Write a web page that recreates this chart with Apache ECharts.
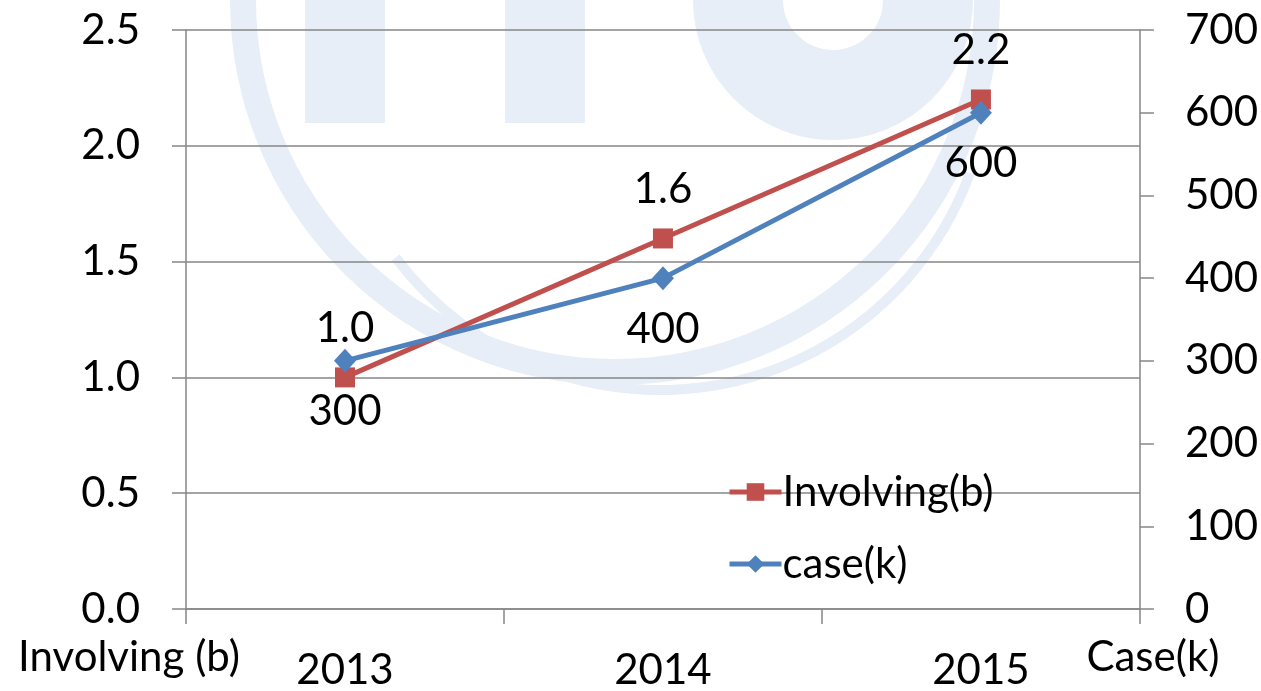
<!DOCTYPE html>
<html>
<head>
<meta charset="utf-8">
<script src="https://cdn.jsdelivr.net/npm/echarts@6/dist/echarts.min.js"></script>
<style>
html, body { margin: 0; padding: 0; background: #fff; }
#main { width: 1261px; height: 691px; }
</style>
</head>
<body>
<div id="main"></div>
<script>
var years = ['2013', '2014', '2015'];
var involving = [1.0, 1.6, 2.2];   // 左轴: Involving (b)
var cases = [300, 400, 600];       // 右轴: Case(k)

var FONT = 'Lato';
var GRAY = '#868686';
var wm = '#e8eef7'; // 背景水印颜色

var dom = document.getElementById('main');
var myChart = echarts.init(dom);

var option = {
    backgroundColor: '#fff',
    textStyle: { fontFamily: FONT, color: '#000' },
    animation: false,
    // 背景水印 (大致形状)
    graphic: [
        { type: 'arc', z: -10, shape: { cx: 615, cy: 0, r: 372, startAngle: 0, endAngle: Math.PI }, style: { stroke: wm, lineWidth: 26, fill: null } },
        { type: 'arc', z: -10, shape: { cx: 660, cy: 60, r: 330, startAngle: 0.35, endAngle: 2.5 }, style: { stroke: wm, lineWidth: 10, fill: null } },
        { type: 'rect', z: -10, shape: { x: 305, y: 0, width: 80, height: 123 }, style: { fill: wm } },
        { type: 'rect', z: -10, shape: { x: 505, y: 0, width: 80, height: 123 }, style: { fill: wm } },
        { type: 'arc', z: -10, shape: { cx: 833, cy: 0, r: 95, startAngle: 0, endAngle: Math.PI }, style: { stroke: wm, lineWidth: 90, fill: null } }
    ],
    legend: {
        orient: 'vertical',
        left: 722,
        top: 466,
        itemWidth: 52,
        itemHeight: 22,
        itemGap: 30,
        lineStyle: { width: 5 },
        textStyle: { fontSize: 42, fontFamily: FONT, color: '#000', padding: [0, 0, 0, -4] },
        data: ['Involving(b)', 'case(k)']
    },
    grid: {
        left: 186,
        right: 121,
        top: 30,
        bottom: 78
    },
    xAxis: {
        type: 'category',
        data: years,
        boundaryGap: true,
        axisLine: { lineStyle: { color: GRAY, width: 1.5 } },
        axisTick: { show: true, length: 15, lineStyle: { color: GRAY, width: 1.5 } },
        axisLabel: { fontSize: 42, fontFamily: FONT, color: '#000', margin: 40 }
    },
    yAxis: [
        {
            type: 'value',
            min: 0,
            max: 2.5,
            interval: 0.5,
            name: 'Involving (b)',
            nameLocation: 'start',
            nameGap: 48,
            nameTextStyle: { fontSize: 42, fontFamily: FONT, color: '#000', align: 'center', verticalAlign: 'middle', padding: [0, 114, 0, 0] },
            axisLine: { show: true, lineStyle: { color: GRAY, width: 1.5 } },
            axisTick: { show: true, length: 14, lineStyle: { color: GRAY, width: 1.5 } },
            splitLine: { show: true, lineStyle: { color: GRAY, width: 1.5 } },
            axisLabel: {
                fontSize: 42, fontFamily: FONT, color: '#000', margin: 46,
                formatter: function (v) { return v.toFixed(1); }
            }
        },
        {
            type: 'value',
            min: 0,
            max: 700,
            interval: 100,
            position: 'right',
            name: 'Case(k)',
            nameLocation: 'start',
            nameGap: 48,
            nameTextStyle: { fontSize: 42, fontFamily: FONT, color: '#000', align: 'center', verticalAlign: 'middle', padding: [0, 0, 0, 26] },
            axisLine: { show: true, lineStyle: { color: GRAY, width: 1.5 } },
            axisTick: { show: true, length: 14, lineStyle: { color: GRAY, width: 1.5 } },
            splitLine: { show: false },
            axisLabel: { fontSize: 42, fontFamily: FONT, color: '#000', margin: 45 }
        }
    ],
    series: [
        {
            name: 'Involving(b)',
            type: 'line',
            yAxisIndex: 0,
            data: involving,
            symbol: 'rect',
            symbolSize: 20,
            lineStyle: { color: '#C0504D', width: 5 },
            itemStyle: { color: '#C0504D' },
            label: {
                show: true,
                position: 'top',
                distance: 18,
                fontSize: 42,
                fontFamily: FONT,
                color: '#000',
                formatter: function (p) { return p.value.toFixed(1); }
            }
        },
        {
            name: 'case(k)',
            type: 'line',
            yAxisIndex: 1,
            data: cases,
            symbol: 'diamond',
            symbolSize: [22, 24],
            lineStyle: { color: '#4F81BD', width: 5 },
            itemStyle: { color: '#4F81BD' },
            label: {
                show: true,
                position: 'bottom',
                distance: 18,
                fontSize: 42,
                fontFamily: FONT,
                color: '#000'
            }
        }
    ]
};
myChart.setOption(option);
</script>
</body>
</html>
